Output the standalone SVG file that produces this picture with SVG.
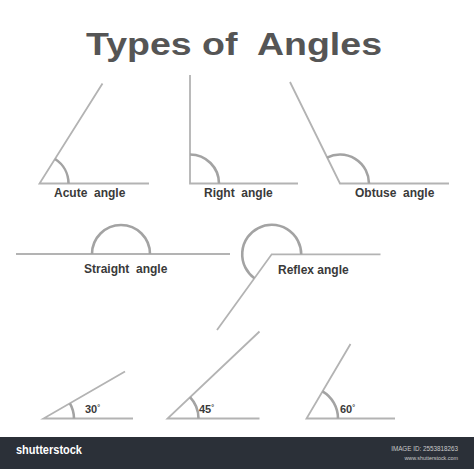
<svg xmlns="http://www.w3.org/2000/svg" width="474" height="469" viewBox="0 0 474 469">
<style>
.ln{stroke:#b3b3b3;stroke-width:1.8;fill:none;stroke-linecap:butt}
.arc{stroke:#a3a3a3;stroke-width:2.6;fill:none}
.lbl{font-family:"Liberation Sans",Arial,sans-serif;font-weight:bold;font-size:12px;fill:#3a3a3a}
.deg{font-family:"Liberation Sans",Arial,sans-serif;font-weight:bold;font-size:11px;fill:#3a3a3a}
</style>
<rect width="474" height="469" fill="#ffffff"/>
<text x="86" y="55" font-family="Liberation Sans,Arial,sans-serif" font-weight="bold" font-size="32" fill="#555555" textLength="296" lengthAdjust="spacingAndGlyphs" xml:space="preserve">Types of  Angles</text>
<g id="connectors"></g>
<g id="acute">
<path class="ln" d="M102.5 83.5 L39.5 183.5 L149 183.5"/>
<path class="arc" d="M68.5 183.5 A29 29 0 0 0 55 159"/>
<text class="lbl" x="54" y="197" xml:space="preserve">Acute  angle</text>
</g>
<g id="right">
<path class="ln" d="M190 75 L190 183.5 L298 183.5"/>
<path class="arc" d="M219 183.5 A29 29 0 0 0 190 154.5"/>
<text class="lbl" x="204" y="197" xml:space="preserve">Right  angle</text>
</g>
<g id="obtuse">
<path class="ln" d="M290 82 L340 183.5 L449 183.5"/>
<path class="arc" d="M369 183.5 A29 29 0 0 0 327 157.6"/>
<text class="lbl" x="355" y="197" xml:space="preserve">Obtuse  angle</text>
</g>
<g id="straight">
<path class="ln" d="M16 254 L230 254"/>
<path class="arc" d="M92 254 A29 29 0 0 1 150 254"/>
<text class="lbl" x="84" y="273" xml:space="preserve">Straight  angle</text>
</g>
<g id="reflex">
<path class="ln" d="M217 330 L271.7 254.3 L380.5 254.3"/>
<path class="arc" d="M301.2 254.3 A29.5 29.5 0 1 0 254.4 278.2"/>
<text class="lbl" x="278" y="274">Reflex angle</text>
</g>
<g id="a30">
<path class="ln" d="M125 371.5 L43.5 418.5 L133 418.5"/>
<path class="arc" d="M74 418.5 A30.5 30.5 0 0 0 69.9 403.3"/>
<text class="deg" x="85" y="412.7">30<tspan font-size="7" dy="-3">°</tspan></text>
</g>
<g id="a45">
<path class="ln" d="M259.5 331.5 L167.5 418.5 L259.5 418.5"/>
<path class="arc" d="M198.5 418.5 A31 31 0 0 0 190 397.2"/>
<text class="deg" x="199" y="412.7">45<tspan font-size="7" dy="-3">°</tspan></text>
</g>
<g id="a60">
<path class="ln" d="M350.5 344 L306.5 418.5 L395 418.5"/>
<path class="arc" d="M338 418.5 A31.5 31.5 0 0 0 322.5 391.4"/>
<text class="deg" x="340" y="412.7">60<tspan font-size="7" dy="-3">°</tspan></text>
</g>
<g id="footer">
<rect x="0" y="437" width="474" height="32" fill="#2b3038"/>
<text x="16" y="454" font-family="Liberation Sans,Arial,sans-serif" font-weight="bold" font-size="12" fill="#ffffff" textLength="66" lengthAdjust="spacingAndGlyphs">shutterstock</text>
<text x="458" y="450.5" text-anchor="end" font-family="Liberation Sans,Arial,sans-serif" font-size="6.3" fill="#c9c9c9">IMAGE ID: 2553818263</text>
<text x="458" y="460" text-anchor="end" font-family="Liberation Sans,Arial,sans-serif" font-size="5.4" fill="#c9c9c9">www.shutterstock.com</text>
</g>
</svg>
